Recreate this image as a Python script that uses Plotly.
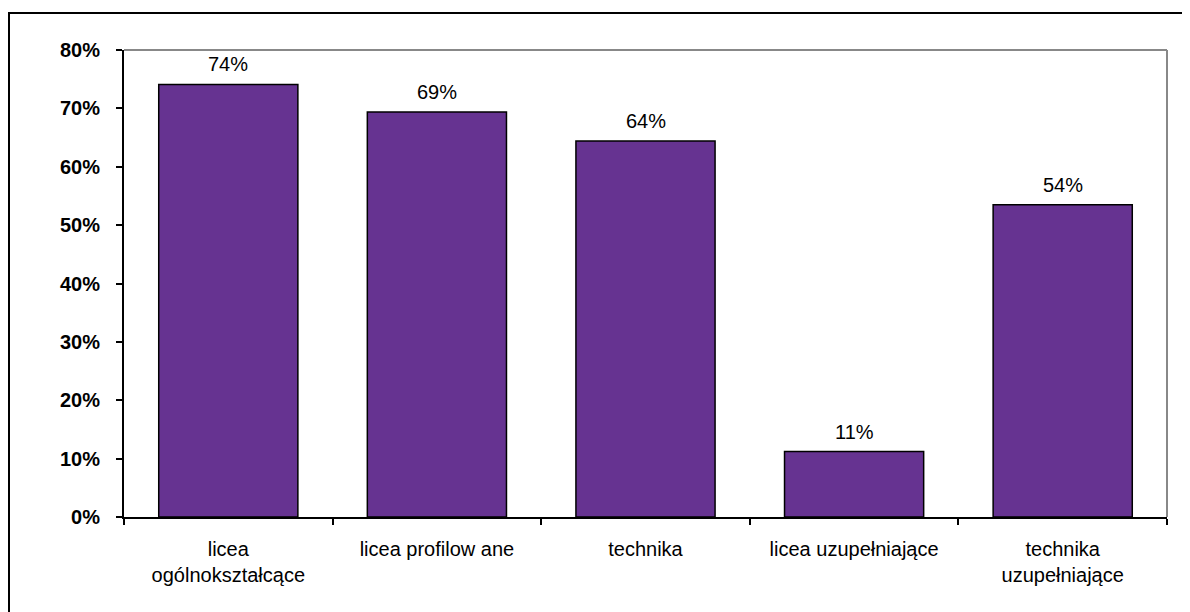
import plotly.graph_objects as go

categories = ["licea<br>ogólnokształcące", "licea profilow ane", "technika",
              "licea uzupełniające", "technika<br>uzupełniające"]
values = [74.1, 69.4, 64.4, 11.2, 53.5]
labels = ["74%", "69%", "64%", "11%", "54%"]
y_ticks = [0, 10, 20, 30, 40, 50, 60, 70, 80]
y_tick_text = [f"{v}%" for v in y_ticks]

FONT = "Liberation Sans"
OFF = 8  # page body margin
W, H = 1190 - OFF, 612 - OFF
L, R, T, B = 124 - OFF, 23, 50 - OFF, 95
pw, ph = W - L - R, H - T - B

fig = go.Figure(go.Bar(
    x=categories, y=values,
    marker=dict(color="#663391", line=dict(color="black", width=1.5)),
    width=0.667, hoverinfo="x+y",
))

annotations = [
    dict(x=c, y=v, text=t, xref="x", yref="y", showarrow=False,
         yanchor="bottom", yshift=7,
         font=dict(family=FONT, size=20, color="black"))
    for c, v, t in zip(categories, values, labels)
]

fig.update_layout(
    width=W, height=H, margin=dict(l=L, r=R, t=T, b=B, autoexpand=False),
    paper_bgcolor="white", plot_bgcolor="white", showlegend=False,
    annotations=annotations,
    xaxis=dict(type="category", tickson="boundaries", ticks="outside", ticklen=6,
               tickcolor="black", tickwidth=1.5, showline=True, linecolor="black",
               linewidth=2, showgrid=False, ticklabelstandoff=13,
               tickfont=dict(family=FONT, size=20, color="black")),
    yaxis=dict(range=[0, 80], tickvals=y_ticks, ticktext=y_tick_text, ticks="outside",
               ticklen=6, tickcolor="black", tickwidth=1.5, showline=True,
               linecolor="black", linewidth=2, showgrid=False, zeroline=False,
               ticklabelstandoff=12,
               tickfont=dict(family=FONT, size=20, color="black", weight="bold")),
    shapes=[
        dict(type="line", xref="paper", yref="paper", x0=0, x1=1, y0=1, y1=1,
             line=dict(color="#888888", width=2)),
        dict(type="line", xref="paper", yref="paper", x0=1, x1=1, y0=0, y1=1,
             line=dict(color="#888888", width=2)),
        dict(type="rect", xref="paper", yref="paper",
             x0=(9 - OFF - L) / pw, x1=(W + 20 - L) / pw,
             y0=(H - B - (H + 20)) / ph, y1=(H - B - (13 - OFF)) / ph,
             line=dict(color="black", width=2), fillcolor="rgba(0,0,0,0)"),
    ],
)

fig.write_html("out.html")
